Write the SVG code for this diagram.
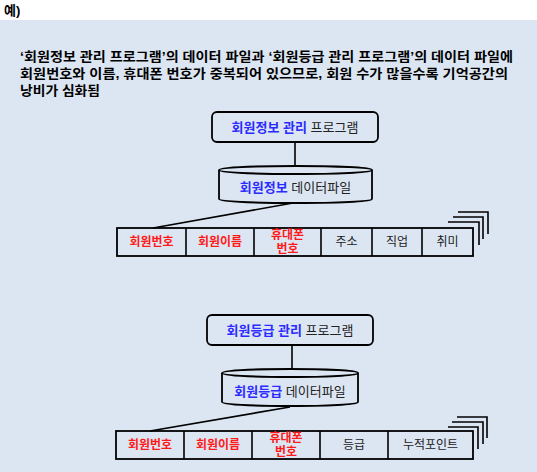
<svg xmlns="http://www.w3.org/2000/svg" width="537" height="472" viewBox="0 0 537 472">
<style>
text{font-family:"Liberation Sans","Noto Sans CJK KR",sans-serif;}
.b{font-weight:bold;}
.blue{fill:#2b2bff;font-weight:bold;}
.red{fill:#ff1a1a;font-weight:bold;}
.k{fill:#222;}
.shape{fill:none;stroke:#000;stroke-width:1.8;}
.fillshape{fill:#dce6f2;stroke:#000;stroke-width:1.8;}
.ln{stroke:#000;stroke-width:1.6;fill:none;}
.cell{font-size:12px;text-anchor:middle;}
.lbl{font-size:13px;text-anchor:middle;}
</style>
<rect x="0" y="0" width="537" height="20" fill="#fff"/>
<rect x="0" y="20" width="537" height="452" fill="#dce6f2"/>
<text x="4" y="15" class="b" font-size="13">예)</text>
<g id="desc" class="b" font-size="13" fill="#000">
<text x="20" y="61" textLength="493" lengthAdjust="spacingAndGlyphs">‘회원정보 관리 프로그램’의 데이터 파일과 ‘회원등급 관리 프로그램’의 데이터 파일에</text>
<text x="20" y="78" textLength="488" lengthAdjust="spacingAndGlyphs">회원번호와 이름, 휴대폰 번호가 중복되어 있으므로, 회원 수가 많을수록 기억공간의</text>
<text x="20" y="95" textLength="80" lengthAdjust="spacingAndGlyphs">낭비가 심화됨</text>
</g>
<g id="connectors">
<line class="ln" x1="295" y1="142" x2="295" y2="166"/>
<line class="ln" x1="293" y1="203" x2="153" y2="228"/>
<line class="ln" x1="292" y1="345" x2="292" y2="369"/>
<line class="ln" x1="290" y1="407" x2="150" y2="431"/>
</g>
<g id="prog1">
<rect class="fillshape" x="212" y="112" width="166" height="30" rx="5"/>
<text class="lbl" x="295" y="131.5"><tspan class="blue">회원정보 관리</tspan><tspan class="k"> 프로그램</tspan></text>
</g>
<g id="file1">
<path class="fillshape" d="M219,170 L219,199 A76.5,4 0 0 0 372,199 L372,170"/>
<ellipse class="fillshape" cx="295.5" cy="170" rx="76.5" ry="4"/>
<text class="lbl" x="295.5" y="191.5"><tspan class="blue">회원정보</tspan><tspan class="k"> 데이터파일</tspan></text>
</g>
<g id="record1">
<path class="ln" d="M448,222 H479 V245 M453,217 H483 V239 M458,212 H488 V234"/>
<rect class="shape" x="117" y="228" width="356" height="28"/>
<path class="ln" d="M186,228 V256 M254,228 V256 M321,228 V256 M372,228 V256 M422,228 V256"/>
<text class="cell red" x="151.5" y="246">회원번호</text>
<text class="cell red" x="220" y="246">회원이름</text>
<text class="cell red" x="287.5" y="239">휴대폰</text>
<text class="cell red" x="287.5" y="253">번호</text>
<text class="cell k" x="346.5" y="246">주소</text>
<text class="cell k" x="397" y="246">직업</text>
<text class="cell k" x="447.5" y="246">취미</text>
</g>
<g id="prog2">
<rect class="fillshape" x="207" y="315" width="166" height="30" rx="5"/>
<text class="lbl" x="290" y="334.5"><tspan class="blue">회원등급 관리</tspan><tspan class="k"> 프로그램</tspan></text>
</g>
<g id="file2">
<path class="fillshape" d="M222,373 L222,402 A68,4 0 0 0 358,402 L358,373"/>
<ellipse class="fillshape" cx="290" cy="373" rx="68" ry="4"/>
<text class="lbl" x="290" y="395.5"><tspan class="blue">회원등급</tspan><tspan class="k">  데이터파일</tspan></text>
</g>
<g id="record2">
<path class="ln" d="M448,427 H478 V449 M452,422 H483 V444 M457,417 H487 V438"/>
<rect class="shape" x="116" y="431" width="357" height="28"/>
<path class="ln" d="M184,431 V459 M252,431 V459 M320,431 V459 M388,431 V459"/>
<text class="cell red" x="150" y="449">회원번호</text>
<text class="cell red" x="218" y="449">회원이름</text>
<text class="cell red" x="286" y="442">휴대폰</text>
<text class="cell red" x="286" y="456">번호</text>
<text class="cell k" x="354" y="449">등급</text>
<text class="cell k" x="430.5" y="449">누적포인트</text>
</g>
</svg>
